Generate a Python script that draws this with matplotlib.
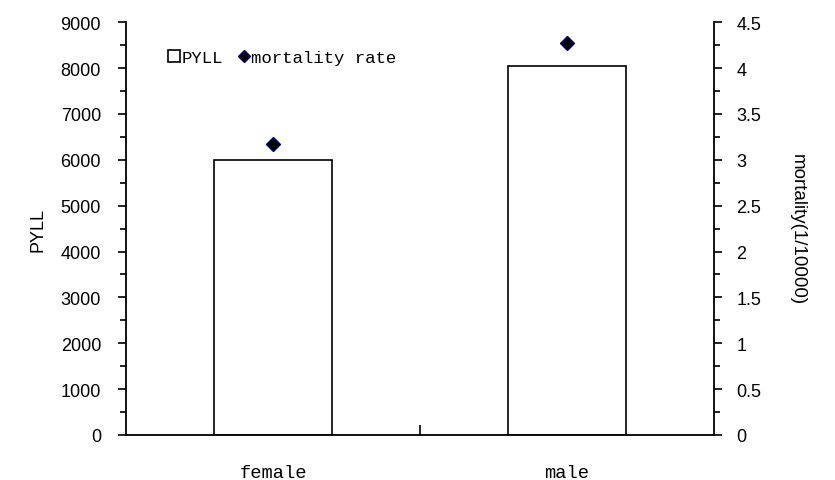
import matplotlib.pyplot as plt
from matplotlib.ticker import MultipleLocator
from matplotlib.lines import Line2D
from matplotlib.patches import Patch

categories = ['female', 'male']
pyll = [6000, 8050]
mortality = [3.17, 4.27]

fig = plt.figure(figsize=(8.35, 4.81), dpi=100)
ax = fig.add_axes([0.151, 0.0936, 0.704, 0.858])
x = list(range(len(categories)))

ax.bar(x, pyll, width=0.4, facecolor='white', edgecolor='black', linewidth=1.2, zorder=2)
ax.set_xlim(-0.5, 1.5)
ax.set_ylim(0, 9000)
ax.yaxis.set_major_locator(MultipleLocator(1000))
ax.yaxis.set_minor_locator(MultipleLocator(500))

ax2 = ax.twinx()
ax2.plot(x, mortality, linestyle='none', marker='D', markersize=7.5,
         markerfacecolor='black', markeredgecolor='#000080', zorder=3)
ax2.set_ylim(0, 4.5)
ax2.set_yticks([0, 0.5, 1, 1.5, 2, 2.5, 3, 3.5, 4, 4.5])
ax2.set_yticklabels(['0', '0.5', '1', '1.5', '2', '2.5', '3', '3.5', '4', '4.5'])
ax2.yaxis.set_minor_locator(MultipleLocator(0.25))

for a in (ax, ax2):
    a.spines['top'].set_visible(False)
    for s in a.spines.values():
        s.set_linewidth(1.3)
ax.spines['right'].set_visible(False)
ax2.spines['left'].set_visible(False)
ax2.spines['bottom'].set_visible(False)

sans = 'Liberation Sans'
mono = 'Liberation Mono'
ax.tick_params(axis='y', which='major', direction='out', length=6, width=1.2,
               labelsize=13, pad=12)
ax.tick_params(axis='y', which='minor', direction='out', length=4, width=1.2)
ax2.tick_params(axis='y', which='major', direction='out', length=6, width=1.2,
                labelsize=13, pad=10)
ax2.tick_params(axis='y', which='minor', direction='out', length=4, width=1.2)
for lab in ax.get_yticklabels() + ax2.get_yticklabels():
    lab.set_fontfamily(sans)

ax.set_xticks(x)
ax.set_xticklabels(categories, fontfamily=mono, fontsize=13.5)
ax.tick_params(axis='x', which='major', length=0, pad=21)
ax.set_xticks([0.5], minor=True)
ax.tick_params(axis='x', which='minor', direction='in', length=7, width=1.2)

ax.set_ylabel('PYLL', fontfamily=sans, fontsize=13, labelpad=10)
ax2.set_ylabel('mortality(1/10000)', fontfamily=sans, fontsize=13.5,
               rotation=-90, labelpad=20, va='bottom')

handles = [Patch(facecolor='white', edgecolor='black', linewidth=1.2),
           Line2D([], [], linestyle='none', marker='D', markersize=6,
                  markerfacecolor='black', markeredgecolor='#000080')]
ax.legend(handles, ['PYLL', 'mortality rate'], ncol=2, frameon=False,
          loc='upper left', bbox_to_anchor=(0.045, 0.97),
          prop={'family': mono, 'size': 12.5}, handlelength=0.7,
          handleheight=0.7, handletextpad=0.1, columnspacing=0.8)

fig.savefig('out.png', dpi=100)
